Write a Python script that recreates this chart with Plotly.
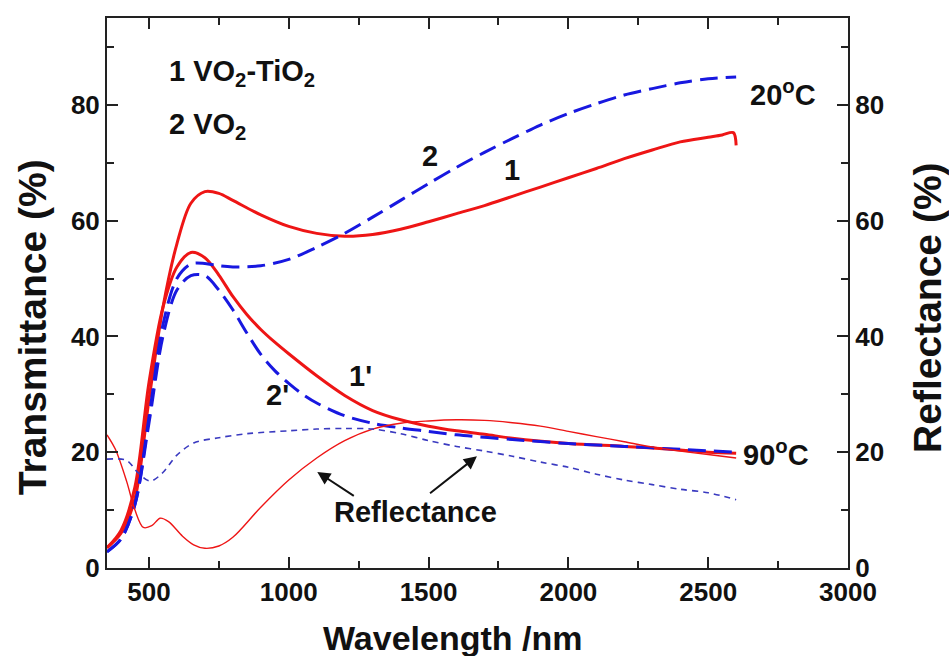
import plotly.graph_objects as go

# ---------------- data ----------------
wl_t1 = [350, 400, 450, 500, 550, 600, 650, 700, 750, 800, 900, 1000, 1100, 1200, 1300, 1400,
         1500, 1600, 1700, 1800, 1900, 2000, 2100, 2200, 2300, 2400, 2500, 2550, 2590, 2600]
t1_20C = [3.5, 6, 12, 29, 45, 56, 63, 65, 64.7, 63.5, 61, 59, 57.8, 57.3, 57.6, 58.5,
          59.8, 61.2, 62.6, 64.2, 65.8, 67.4, 69, 70.7, 72.2, 73.6, 74.4, 74.8, 75.2, 73]

wl_t1h = [350, 400, 450, 500, 550, 600, 650, 700, 750, 800, 850, 900, 950, 1000, 1100, 1200,
          1300, 1400, 1500, 1600, 1700, 1800, 2000, 2200, 2400, 2500, 2600]
t1_90C = [3.5, 6.5, 14, 32, 45, 52, 54.5, 53.6, 50.6, 46.9, 43.8, 41.2, 39, 37, 33.2, 29.8,
          27.2, 25.6, 24.5, 23.7, 23.1, 22.4, 21.5, 21, 20.4, 20, 19.8]

wl_t2 = [350, 400, 450, 500, 550, 600, 650, 700, 750, 800, 900, 1000, 1100, 1200, 1300, 1400,
         1500, 1600, 1700, 1800, 1900, 2000, 2100, 2200, 2300, 2400, 2500, 2600]
t2_20C = [2.8, 5, 11, 26, 42, 50, 52.5, 52.6, 52.2, 52, 52.2, 53.3, 55.4, 57.8, 60.6, 63.5,
          66.4, 69.2, 71.8, 74.2, 76.5, 78.5, 80.2, 81.7, 82.8, 83.8, 84.5, 84.8]

wl_t2h = [350, 400, 450, 500, 550, 600, 650, 700, 750, 800, 850, 900, 950, 1000, 1050, 1100,
          1200, 1300, 1400, 1500, 1600, 1800, 2000, 2200, 2400, 2600]
t2_90C = [2.8, 5, 11, 25, 40, 48, 50.5, 50.5, 48, 44.6, 40.6, 36.9, 34.1, 31.9, 30, 28.5,
          26.3, 25, 24.2, 23.6, 23, 22.2, 21.5, 21, 20.5, 20]

wl_r1 = [350, 380, 420, 450, 480, 510, 540, 570, 620, 660, 700, 750, 800, 900, 1000, 1100, 1200,
         1300, 1400, 1500, 1600, 1700, 1800, 1900, 2000, 2100, 2200, 2300, 2400, 2500, 2600]
r1 = [23, 20.5, 15, 10, 7, 7.3, 8.6, 8, 5.5, 4, 3.4, 3.8, 5.3, 10.5, 15.2, 19, 22, 24, 25, 25.4,
      25.6, 25.5, 25.1, 24.5, 23.6, 22.7, 21.8, 20.9, 20.2, 19.6, 19]

wl_r2 = [350, 420, 460, 505, 550, 600, 660, 750, 850, 1000, 1100, 1200, 1300, 1400, 1500, 1600,
         1700, 1800, 1900, 2000, 2100, 2200, 2300, 2400, 2500, 2600]
r2 = [18.8, 18.6, 16.5, 15, 16.5, 19.5, 21.6, 22.5, 23.2, 23.7, 24, 24.1, 24, 23.2, 22, 21,
      20.2, 19.3, 18.3, 17.4, 16.2, 15.2, 14.4, 13.6, 13, 11.8]

x_ticks = [500, 1000, 1500, 2000, 2500, 3000]
y_ticks = [0, 20, 40, 60, 80]

RED = "#ee1515"
BLUE = "#1818e0"
BLUE_THIN = "#3a3ac0"
FONT = "Liberation Sans, Arial, sans-serif"

fig = go.Figure()

def add(x, y, color, width, dash, axis="y"):
    fig.add_trace(go.Scatter(x=x, y=y, mode="lines", yaxis=axis, showlegend=False,
                             line=dict(color=color, width=width, dash=dash,
                                       shape="spline", smoothing=0.9),
                             hoverinfo="skip"))

add(wl_r1, r1, RED, 1.4, "solid", "y2")
add(wl_r2, r2, BLUE_THIN, 1.6, "6px,5px", "y2")
add(wl_t1, t1_20C, RED, 3, "solid")
add(wl_t1h, t1_90C, RED, 3, "solid")
add(wl_t2, t2_20C, BLUE, 3, "18px,8px")
add(wl_t2h, t2_90C, BLUE, 3, "18px,8px")

tickfont = dict(family=FONT, size=26, color="#111", weight="bold")
axcommon = dict(showline=True, linecolor="#222", linewidth=2, ticks="inside",
                ticklen=11, tickwidth=1.5, tickcolor="#222", showgrid=False,
                zeroline=False, tickfont=tickfont, automargin=False)

fig.update_layout(
    width=949, height=656,
    margin=dict(l=107, r=101, t=18, b=88),
    plot_bgcolor="white", paper_bgcolor="white",
    xaxis=dict(range=[350, 3000], tickvals=x_ticks, mirror="ticks",
               minor=dict(dtick=250, tick0=0, ticks="inside", ticklen=7, tickcolor="#222"),
               **axcommon),
    yaxis=dict(range=[0, 95], tickvals=y_ticks,
               minor=dict(dtick=10, tick0=0, ticks="inside", ticklen=7, tickcolor="#222"),
               **axcommon),
    yaxis2=dict(range=[0, 95], tickvals=y_ticks, overlaying="y", side="right",
                minor=dict(dtick=10, tick0=0, ticks="inside", ticklen=7, tickcolor="#222"),
                **axcommon),
)

# axis titles (placed as paper annotations to match the reference positions)
titles = [
    (0.466, -0.128, "Wavelength /nm", 0, 34),
    (-0.1005, 0.437, "Transmittance (%)", -90, 39),
    (1.108, 0.473, "Reflectance (%)", -90, 39),
]
for x, y, t, ang, sz in titles:
    fig.add_annotation(x=x, y=y, xref="paper", yref="paper", text="<b>" + t + "</b>",
                       showarrow=False, textangle=ang, xanchor="center", yanchor="middle",
                       font=dict(family=FONT, size=sz, color="#111"))

afont = dict(family=FONT, size=29, color="#111")
labels = [
    (565, 85.5, "1 VO<sub>2</sub>-TiO<sub>2</sub>", "left"),
    (565, 76.3, "2 VO<sub>2</sub>", "left"),
    (1506, 71.1, "2", "center"),
    (1798, 68.8, "1", "center"),
    (2768, 82.1, "20<sup>o</sup>C", "center"),
    (2744, 19.9, "90<sup>o</sup>C", "center"),
    (1256, 33.1, "1'", "center"),
    (958, 29.9, "2'", "center"),
    (1453, 9.6, "Reflectance", "center"),
]
for x, y, t, anc in labels:
    fig.add_annotation(x=x, y=y, text="<b>" + t + "</b>", showarrow=False, xanchor=anc,
                       yanchor="middle", font=afont)

arrows = [((1238, 12.3), (1102, 16.6)), ((1500, 12.7), (1673, 19.3))]
for (tx, ty), (hx, hy) in arrows:
    fig.add_annotation(x=hx, y=hy, ax=tx, ay=ty, axref="x", ayref="y", xref="x", yref="y",
                       text="", showarrow=True, arrowhead=2, arrowsize=1.3,
                       arrowwidth=2, arrowcolor="#111")

# remove the default 8px page margin so the 949x656 figure fills the window exactly
fig.write_html("out.html", config={"displayModeBar": False},
               post_script="document.body.style.margin='0';document.body.style.overflow='hidden';")
